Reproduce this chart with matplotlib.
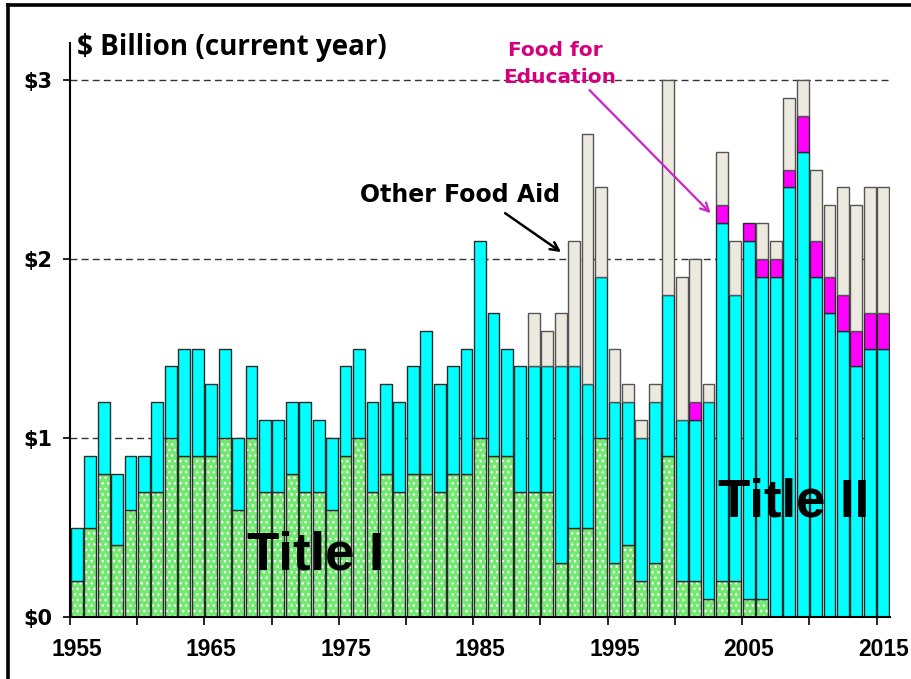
import numpy as np
import matplotlib
matplotlib.use('Agg')
import matplotlib.pyplot as plt
from matplotlib.lines import Line2D

# ---------------- data ----------------
years = np.arange(1955, 2016)

title1 = [0.2, 0.5, 0.8, 0.4, 0.6, 0.7, 0.7, 1.0, 0.9, 0.9,   # 1955-64
          0.9, 1.0, 0.6, 1.0, 0.7, 0.7, 0.8, 0.7, 0.7, 0.6,   # 1965-74
          0.9, 1.0, 0.7, 0.8, 0.7, 0.8, 0.8, 0.7, 0.8, 0.8,   # 1975-84
          1.0, 0.9, 0.9, 0.7, 0.7, 0.7, 0.3, 0.5, 0.5, 1.0,   # 1985-94
          0.3, 0.4, 0.2, 0.3, 0.9, 0.2, 0.2, 0.1, 0.2, 0.2,   # 1995-2004
          0.1, 0.1, 0.0, 0.0, 0.0, 0.0, 0.0, 0.0, 0.0, 0.0,   # 2005-14
          0.0]                                                # 2015

title2 = [0.3, 0.4, 0.4, 0.4, 0.3, 0.2, 0.5, 0.4, 0.6, 0.6,
          0.4, 0.5, 0.4, 0.4, 0.4, 0.4, 0.4, 0.5, 0.4, 0.4,
          0.5, 0.5, 0.5, 0.5, 0.5, 0.6, 0.8, 0.6, 0.6, 0.7,
          1.1, 0.8, 0.6, 0.7, 0.7, 0.7, 1.1, 0.9, 0.8, 0.9,
          0.9, 0.8, 0.8, 0.9, 0.9, 0.9, 0.9, 1.1, 2.0, 1.6,
          2.0, 1.8, 1.9, 2.4, 2.6, 1.9, 1.7, 1.6, 1.4, 1.5,
          1.5]

food_for_education = [0.0] * 46 + [0.1, 0.0, 0.1, 0.0, 0.1, 0.1, 0.1, 0.1,
                                   0.2, 0.2, 0.2, 0.2, 0.2, 0.2, 0.2]   # 2001-2015

other_food_aid = [0.0] * 34 + [0.3, 0.2, 0.3, 0.7, 1.4, 0.5,          # 1989-94
                               0.3, 0.1, 0.1, 0.1, 1.2, 0.8, 0.8, 0.1,  # 1995-2002
                               0.3, 0.3, 0.0, 0.2, 0.1, 0.4, 0.2, 0.4,  # 2003-2010
                               0.4, 0.6, 0.7, 0.7, 0.7]                 # 2011-2015

x_tick_years = [1955, 1965, 1975, 1985, 1995, 2005, 2015]
x_tick_labels = ['1955', '1965', '1975', '1985', '1995', '2005', '2015']
y_tick_values = [0, 1, 2, 3]
y_tick_labels = ['$0', '$1', '$2', '$3']

# ---------------- figure ----------------
fig = plt.figure(figsize=(9.12, 6.79), dpi=100)
ax = fig.add_axes([70 / 912, 62 / 679, 820 / 912, 574 / 679])

w = 0.88
edge = '#2a2a2a'
t1 = np.array(title1)
t2 = np.array(title2)
ffe = np.array(food_for_education)
oth = np.array(other_food_aid)

segments = [
    (t1, np.zeros_like(t1), '#72EA72', True),
    (t2, t1, '#00FFFF', False),
    (ffe, t1 + t2, '#FF00FF', False),
    (oth, t1 + t2 + ffe, '#ECE9DF', False),
]
for vals, bottom, col, hatched in segments:
    m = vals > 0
    if hatched:
        ax.bar(years[m], vals[m], w, bottom=bottom[m], color=col,
               edgecolor='white', linewidth=0, hatch='...', zorder=2)
        ax.bar(years[m], vals[m], w, bottom=bottom[m], facecolor='none',
               edgecolor=edge, linewidth=1.0, zorder=3)
    else:
        ax.bar(years[m], vals[m], w, bottom=bottom[m], color=col,
               edgecolor=edge if col != '#ECE9DF' else '#555555',
               linewidth=1.0, zorder=3)

# grid
for yv in y_tick_values[1:]:
    ax.axhline(yv, color='#333333', lw=1.0, linestyle=(0, (5, 3)), zorder=1)

ax.set_xlim(1954.5, 2015.5)
ax.set_ylim(0, 3.207)

ax.set_xticks(x_tick_years)
ax.set_xticklabels(x_tick_labels, fontsize=16.5, fontweight='bold',
                   family='Liberation Sans')
ax.set_xticks(np.arange(1954.5, 2015, 5), minor=True)
ax.tick_params(axis='x', which='major', length=0, pad=15)
ax.tick_params(axis='x', which='minor', length=6, width=1.2, direction='out',
               color='black')

ax.set_yticks(y_tick_values)
ax.set_yticklabels(y_tick_labels, fontsize=15, fontweight='bold',
                   family='DejaVu Sans')
ax.tick_params(axis='y', length=5, width=1.2, pad=8)

for s in ['top', 'right']:
    ax.spines[s].set_visible(False)
for s in ['left', 'bottom']:
    ax.spines[s].set_linewidth(1.5)
    ax.spines[s].set_zorder(4)

# ---------------- annotations ----------------
ax.text(1955.02, 3.14, '$ Billion (current year)', fontsize=20,
        fontweight='bold', family='Open Sans', ha='left', va='baseline',
        clip_on=False)

ax.text(1983.5, 2.318, 'Other Food Aid', fontsize=17, fontweight='bold',
        family='DejaVu Sans', ha='center', va='baseline', zorder=6)
ax.annotate('', xy=(1991.2, 2.03), xytext=(1986.7, 2.265),
            arrowprops=dict(arrowstyle='->,head_length=0.6,head_width=0.3',
                            color='black', lw=1.8), zorder=6)

ffe_color = '#D4007D'
ax.text(1990.6, 3.136, 'Food for', fontsize=14.5, fontweight='bold',
        family='DejaVu Sans', ha='center', va='baseline', color=ffe_color,
        clip_on=False)
ax.text(1990.9, 2.983, 'Education', fontsize=14.5, fontweight='bold',
        family='DejaVu Sans', ha='center', va='baseline', color=ffe_color,
        clip_on=False)
ax.annotate('', xy=(2002.3, 2.245), xytext=(1993.0, 2.955),
            arrowprops=dict(arrowstyle='->,head_length=0.6,head_width=0.3',
                            color='#CC22CC', lw=1.6), zorder=6)

ax.text(1967.7, 0.263, 'Title I', fontsize=38, fontweight='bold',
        family='Liberation Sans', ha='left', va='baseline', zorder=6)
ax.text(2002.7, 0.559, 'Title II', fontsize=38, fontweight='bold',
        family='Liberation Sans', ha='left', va='baseline', zorder=6)

# figure frame (left and top edges visible in reference)
fig.add_artist(Line2D([8 / 912, 8 / 912], [0, 1 - 5 / 679],
                      transform=fig.transFigure, color='black', lw=2.6))
fig.add_artist(Line2D([8 / 912, 1], [1 - 5 / 679, 1 - 5 / 679],
                      transform=fig.transFigure, color='black', lw=2.6))

fig.savefig('out.png', dpi=100)
